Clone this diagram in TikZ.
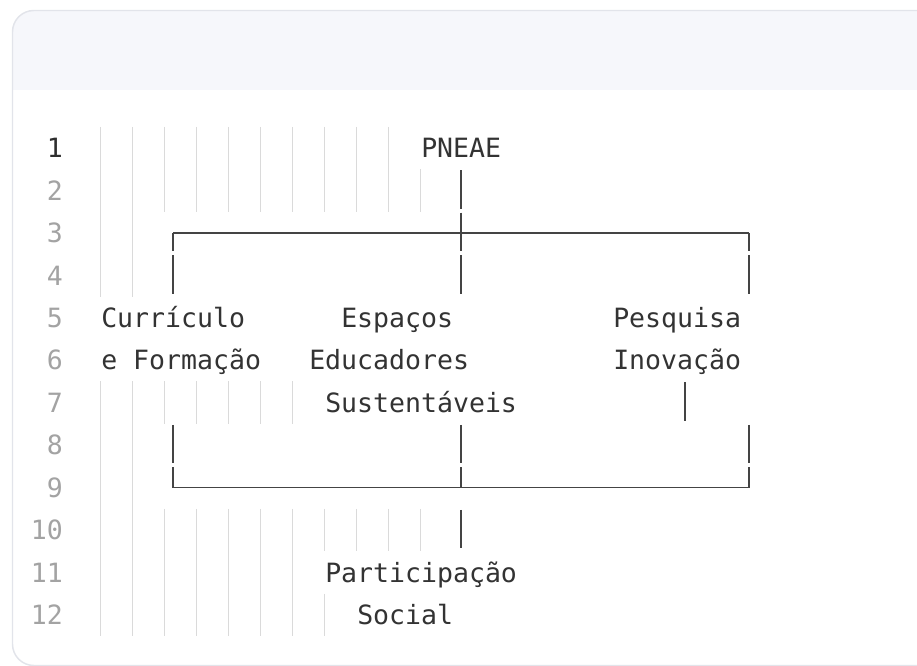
\documentclass[tikz,border=0pt]{standalone}
\usepackage{fontspec}
\newfontfamily\codefont{DejaVu Sans Mono}
\definecolor{codetext}{HTML}{333333}
\definecolor{boxcol}{HTML}{444444}
\definecolor{numgrey}{HTML}{A3A3A3}
\definecolor{numcur}{HTML}{2E2E2E}
\definecolor{guidecol}{HTML}{DADADA}
\definecolor{framecol}{HTML}{E2E4EA}
\definecolor{headcol}{HTML}{F6F7FB}
\newcommand\ly[1]{148+(#1-1)*42.45}
\newcommand\colx[1]{101+#1*16}
\newcommand\colc[1]{101+(#1+0.5)*16}
\begin{document}
\begin{tikzpicture}[x=0.75pt,y=-0.75pt,
  txt/.style={font=\codefont\fontsize{19.9}{24}\selectfont, text=codetext, inner sep=0pt, anchor=base west},
  lnum/.style={font=\codefont\fontsize{19.9}{24}\selectfont, text=numgrey, inner sep=0pt, anchor=base east},
  boxl/.style={draw=boxcol, line width=1.5pt},
  hline/.style={draw=boxcol, line width=1.1pt},
  guide/.style={draw=guidecol, line width=0.75pt},
]
\useasboundingbox (0,0) rectangle (917,666);
% editor frame
\begin{scope}
  \clip[rounded corners=16] (12.5,10.5) rectangle (1000,665.5);
  \fill[white] (0,0) rectangle (1000,700);
  \fill[headcol] (0,0) rectangle (1000,90);
\end{scope}
\draw[framecol, line width=1.1pt, rounded corners=16] (12.5,10.5) rectangle (1000,665.5);

% indent guides
\newcommand\guide[3]{\draw[guide] ({100.5+#1*16},{\ly{#2}-21.2}) -- ({100.5+#1*16},{\ly{#3}+21.2});}
\foreach \c in {0,2}{\guide{\c}{1}{4}\guide{\c}{7}{12}}
\foreach \c in {4,6,8,10,12}{\guide{\c}{1}{2}\guide{\c}{7}{7}\guide{\c}{10}{12}}
\guide{14}{1}{2}\guide{14}{10}{10}\guide{14}{12}{12}
\foreach \c in {16,18}{\guide{\c}{1}{2}\guide{\c}{10}{10}}
\guide{20}{2}{2}\guide{20}{10}{10}

% line numbers
\foreach \i in {2,...,12}{\node[lnum] (ln\i) at (63,{\ly{\i}+9.7}) {\i};}
\node[lnum, text=numcur] (ln1) at (63,{\ly{1}+9.7}) {1};

% labels
\node[txt] (pneae) at ({\colx{20}},{\ly{1}+9.7}) {PNEAE};
\node[txt] (cur1) at ({\colx{0}},{\ly{5}+9.7}) {Currículo};
\node[txt] (cur2) at ({\colx{0}},{\ly{6}+9.7}) {e Formação};
\node[txt] (esp1) at ({\colx{15}},{\ly{5}+9.7}) {Espaços};
\node[txt] (esp2) at ({\colx{13}},{\ly{6}+9.7}) {Educadores};
\node[txt] (esp3) at ({\colx{14}},{\ly{7}+9.7}) {Sustentáveis};
\node[txt] (pes1) at ({\colx{32}},{\ly{5}+9.7}) {Pesquisa};
\node[txt] (pes2) at ({\colx{32}},{\ly{6}+9.7}) {Inovação};
\node[txt] (par1) at ({\colx{14}},{\ly{11}+9.7}) {Participação};
\node[txt] (par2) at ({\colx{16}},{\ly{12}+9.7}) {Social};

% junction coordinates
\coordinate (tl) at ({\colc{4}},{\ly{3}});
\coordinate (tm) at ({\colc{22}},{\ly{3}});
\coordinate (tr) at ({\colc{40}},{\ly{3}});
\coordinate (bl) at ({\colc{4}},{\ly{9}});
\coordinate (bm) at ({\colc{22}},{\ly{9}});
\coordinate (br) at ({\colc{40}},{\ly{9}});

% box-drawing bars, one per text cell
\newcommand\vbar[2]{\draw[boxl] ({\colc{#1}},{\ly{#2}-20.2}) -- ({\colc{#1}},{\ly{#2}+18.2});}
\vbar{22}{2}
\vbar{22}{3}
\foreach \c in {4,22,40}{\vbar{\c}{4}\vbar{\c}{8}}
\vbar{36}{7}
\vbar{22}{10}
% corners and tees
\draw[boxl] (tl) -- ({\colc{4}},{\ly{3}+18.2});
\draw[boxl] (tr) -- ({\colc{40}},{\ly{3}+18.2});
\draw[boxl] ({\colc{4}},{\ly{9}-20.2}) -- (bl);
\draw[boxl] ({\colc{22}},{\ly{9}-20.2}) -- (bm);
\draw[boxl] ({\colc{40}},{\ly{9}-20.2}) -- (br);
% horizontals
\draw[hline] (tl) -- (tm) -- (tr);
\draw[hline] (bl) -- (bm) -- (br);
\end{tikzpicture}
\end{document}
